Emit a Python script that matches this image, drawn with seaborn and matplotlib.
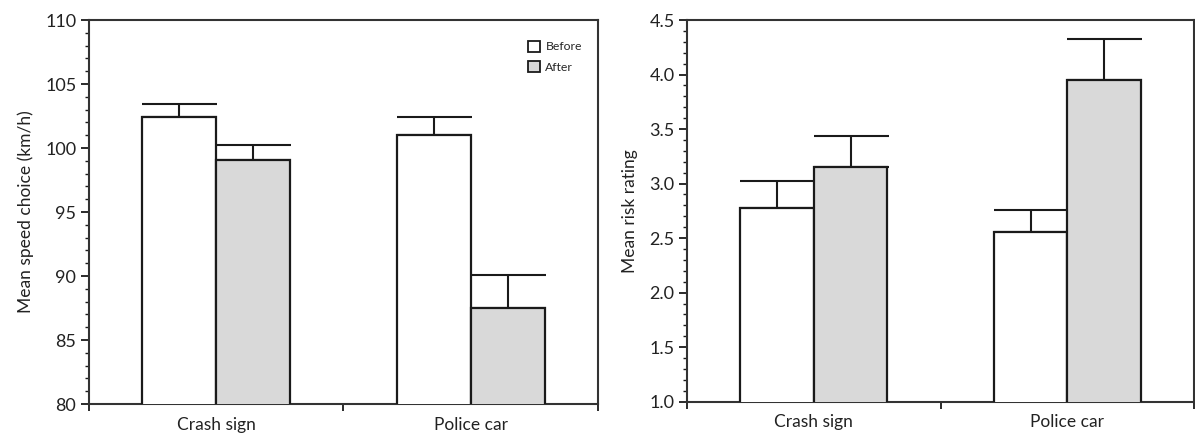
import numpy as np
import pandas as pd
import matplotlib
matplotlib.use("Agg")
import matplotlib.pyplot as plt
from matplotlib.ticker import MultipleLocator, FixedLocator, NullFormatter, FixedFormatter
import seaborn as sns

categories = ["Crash sign", "Police car"]
conditions = ["Before", "After"]
speed_before = [102.4, 101.0]
speed_after = [99.1, 87.5]
speed_err_before = [1.0, 1.45]
speed_err_after = [1.15, 2.6]
risk_before = [2.78, 2.56]
risk_after = [3.15, 3.95]
risk_err_before = [0.24, 0.20]
risk_err_after = [0.29, 0.38]

sns.set_theme(style="white")
plt.rcParams['font.family'] = ['Lato', 'DejaVu Sans']

palette = {"Before": "#ffffff", "After": "#d9d9d9"}
edge = "#1a1a1a"


def make_df(before, after, eb, ea):
    rows = []
    for i, c in enumerate(categories):
        rows.append({"cat": c, "cond": "Before", "val": before[i], "err": eb[i]})
        rows.append({"cat": c, "cond": "After", "val": after[i], "err": ea[i]})
    return pd.DataFrame(rows)


fig = plt.figure(figsize=(11.95, 4.38), dpi=100)
ax1 = fig.add_axes([0.0743, 0.0776, 0.4261, 0.8767])
ax2 = fig.add_axes([0.5749, 0.0830, 0.4243, 0.8713])


def draw(ax, df, ylim, major, minor, ylabel, fmt, legend):
    sns.barplot(data=df, x="cat", y="val", hue="cond", hue_order=conditions,
                order=categories, palette=palette, width=0.58, gap=0,
                edgecolor=edge, linewidth=1.6, errorbar=None, ax=ax,
                legend=legend, zorder=3)
    bars = [p for p in ax.patches if p.get_height() != 0 and p.get_width() < 1]
    errs = list(df[df.cond == "Before"]["err"]) + list(df[df.cond == "After"]["err"])
    for p, e in zip(bars[:4], errs):
        x = p.get_x() + p.get_width() / 2
        h = p.get_y() + p.get_height()
        ax.errorbar([x], [h], yerr=[[0], [e]], fmt="none", ecolor=edge,
                    elinewidth=1.5, capsize=27, capthick=1.5, zorder=2)
    ax.set_ylim(*ylim)
    ax.set_xlim(-0.5, 1.5)
    ax.yaxis.set_major_locator(MultipleLocator(major))
    ax.yaxis.set_minor_locator(MultipleLocator(minor))
    ax.yaxis.set_major_formatter(plt.FuncFormatter(lambda v, _: fmt.format(v)))
    ax.tick_params(axis="y", which="major", direction="out", length=6, width=1.3,
                   color=edge, labelsize=13, left=True, pad=3, labelcolor="#222222")
    ax.tick_params(axis="y", which="minor", direction="out", length=3, width=1.0,
                   color=edge, left=True)
    ax.xaxis.set_major_locator(FixedLocator([-0.5, 0.5, 1.5]))
    ax.xaxis.set_major_formatter(NullFormatter())
    ax.xaxis.set_minor_locator(FixedLocator([0, 1]))
    ax.xaxis.set_minor_formatter(FixedFormatter(categories))
    ax.tick_params(axis="x", which="major", direction="out", length=5, width=1.3,
                   color=edge, bottom=True)
    ax.tick_params(axis="x", which="minor", length=0, labelsize=12.5, pad=9,
                   labelcolor="#222222")
    ax.set_xlabel("")
    ax.set_ylabel(ylabel, fontsize=12.5, labelpad=8, color="#222222")
    for s in ax.spines.values():
        s.set_color("#333333")
        s.set_linewidth(1.5)


draw(ax1, make_df(speed_before, speed_after, speed_err_before, speed_err_after),
     (80, 110), 5, 1, "Mean speed choice (km/h)", "{:.0f}", True)
draw(ax2, make_df(risk_before, risk_after, risk_err_before, risk_err_after),
     (1.0, 4.5), 0.5, 0.1, "Mean risk rating", "{:.1f}", False)

leg = ax1.legend(loc="upper right", bbox_to_anchor=(0.99, 0.975), frameon=False,
                 fontsize=8.8, handlelength=1.0, handleheight=1.0, handletextpad=0.4,
                 labelspacing=0.75)
for h in leg.legend_handles:
    h.set_edgecolor(edge)
    h.set_linewidth(1.3)

fig.savefig("out.png", dpi=100)
